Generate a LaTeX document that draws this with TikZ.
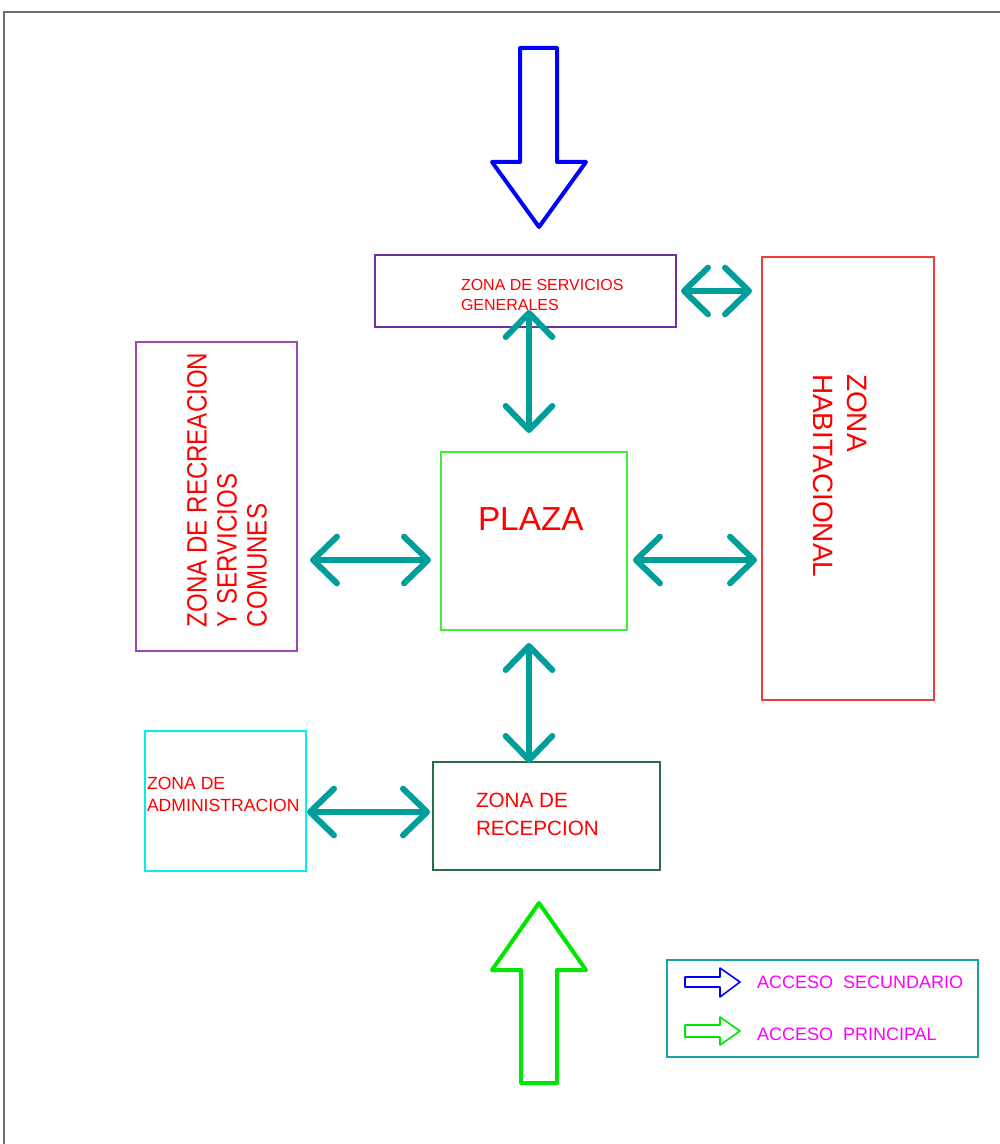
\documentclass[tikz,border=0pt]{standalone}
\usepackage{fontspec}
\setmainfont{Liberation Sans}
\newfontfamily\narrowfont[FakeStretch=0.86]{Liberation Sans}
\usetikzlibrary{arrows.meta,calc}
\definecolor{tealA}{RGB}{0,158,155}
\definecolor{zred}{RGB}{255,0,0}
\definecolor{servC}{RGB}{110,50,160}
\definecolor{recC}{RGB}{160,70,180}
\definecolor{habC}{RGB}{240,60,60}
\definecolor{plazaC}{RGB}{60,240,60}
\definecolor{admC}{RGB}{0,240,240}
\definecolor{recepC}{RGB}{40,110,70}
\definecolor{legC}{RGB}{30,160,160}
\definecolor{magC}{RGB}{255,0,255}
\definecolor{blueC}{RGB}{0,0,255}
\definecolor{greenC}{RGB}{0,230,0}
\definecolor{frameC}{RGB}{110,110,110}
\begin{document}
\begin{tikzpicture}[x=0.75pt,y=-0.75pt,
  box/.style={draw, inner sep=0pt, outer sep=0pt, line width=1.5pt},
  lbl/.style={text=zred, inner sep=0pt, outer sep=0pt, align=left},
  dbl/.style={draw=tealA, line width=4.5pt,
    {Straight Barb[length=18pt,width=35pt,round]}-{Straight Barb[length=18pt,width=35pt,round]}},
  access/.style={line width=3pt, line join=round},
  legarrow/.style={line width=1.2pt, line join=round},
  legtext/.style={text=magC, inner sep=0pt, outer sep=0pt, anchor=base west, font=\fontsize{13.5}{16}\selectfont}
]
\useasboundingbox (0,0) rectangle (999,1144);
\fill[white] (0,0) rectangle (999,1144);
% frame
\draw[frameC, line width=1.5pt] (4,1150) -- (4,12) -- (1005,12);

% boxes
\node[box, draw=servC, minimum width=225.75pt, minimum height=54pt] (serv) at (525.5,291) {};
\node[box, draw=habC, line width=1.2pt, minimum width=129pt, minimum height=332.25pt] (hab) at (848,478.5) {};
\node[box, draw=recC, minimum width=120.75pt, minimum height=231.75pt] (rec) at (216.5,496.5) {};
\node[box, draw=plazaC, line width=1.2pt, minimum width=139.5pt, minimum height=133.5pt] (pl) at (534,541) {};
\node[box, draw=admC, line width=1.2pt, minimum width=120.75pt, minimum height=105pt] (adm) at (225.5,801) {};
\node[box, draw=recepC, minimum width=170.25pt, minimum height=81pt] (recep) at (546.5,816) {};
\node[box, draw=legC, minimum width=233.25pt, minimum height=72.75pt] (leg) at (822.5,1008.5) {};

% labels
\node[lbl, anchor=north west, font=\fontsize{12}{15}\selectfont] (servtxt) at (461,279) {ZONA DE SERVICIOS\\GENERALES};
\node[lbl, anchor=north west, rotate=-90, font=\fontsize{21}{25.5}\selectfont] (habtxt) at (867,374) {ZONA\\HABITACIONAL};
\node[lbl, anchor=north west, rotate=90, font=\narrowfont\fontsize{21}{22.5}\selectfont] (rectxt) at (187,627) {ZONA DE RECREACION\\Y SERVICIOS\\COMUNES};
\node[lbl, anchor=north west, font=\fontsize{25}{30}\selectfont] (pltxt) at (478,508) {PLAZA};
\node[lbl, anchor=north west, font=\fontsize{13.2}{17}\selectfont] (admtxt) at (147,777) {ZONA DE\\ADMINISTRACION};
\node[lbl, anchor=north west, font=\fontsize{15.5}{21}\selectfont] (receptxt) at (476,793) {ZONA DE\\RECEPCION};

% connectors
\draw[dbl] ([shift={(5,0)}]serv.east) -- ([shift={(-10,0)}]serv.east -| hab.west);
\draw[dbl] ([shift={(3.5,-17)}]serv.south) -- ([shift={(-5,-19)}]pl.north);
\draw[dbl] ([shift={(13,63.5)}]rec.east) -- ([shift={(-10,19)}]pl.west);
\draw[dbl] ([shift={(6,19)}]pl.east) -- ([shift={(-5,81.5)}]hab.west);
\draw[dbl] ([shift={(-5,13)}]pl.south) -- ([shift={(-17.5,1)}]recep.north);
\draw[dbl] ([shift={(1,11)}]adm.east) -- ([shift={(-3,-4)}]recep.west);

% access arrows
\draw[access, blueC] (520,48) -- (557,48) -- (557,162) -- (586,162) -- (539,227) -- (492,162) -- (520,162) -- cycle;
\draw[access, greenC] (521,1083) -- (557,1083) -- (557,970) -- (586,970) -- (539,903) -- (492,970) -- (521,970) -- cycle;

% legend
\draw[legarrow, blueC] (685,977) -- (720,977) -- (720,968) -- (740,982) -- (720,997) -- (720,987) -- (685,987) -- cycle;
\draw[legarrow, greenC] (685,1025) -- (720,1025) -- (720,1017) -- (740,1031) -- (720,1045) -- (720,1037) -- (685,1037) -- cycle;
\node[legtext] (leg1) at (757,988) {ACCESO\ \ SECUNDARIO};
\node[legtext] (leg2) at (757,1040) {ACCESO\ \ PRINCIPAL};
\end{tikzpicture}
\end{document}
